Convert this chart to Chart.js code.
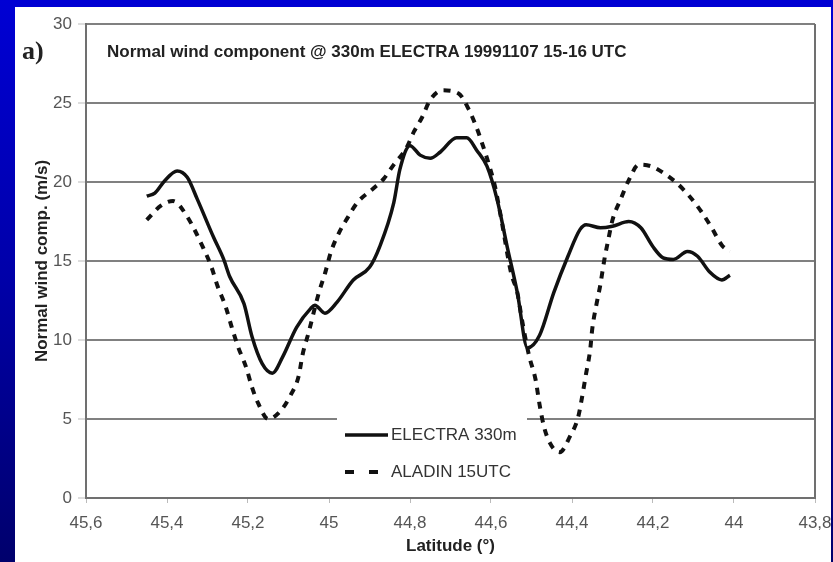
<!DOCTYPE html>
<html>
<head>
<meta charset="utf-8">
<script src="https://cdn.jsdelivr.net/npm/chart.js@4/dist/chart.umd.min.js"></script>
<style>
  html, body { margin: 0; padding: 0; }
  body {
    width: 833px; height: 562px; overflow: hidden; position: relative;
    background: linear-gradient(to bottom, #0000d4 0%, #0000a8 50%, #00006c 100%);
    font-family: Arial, "Liberation Sans", sans-serif;
  }
  #panel { position: absolute; left: 15px; top: 7px; width: 816px; height: 555px; background: #fff; }
  #chart { position: absolute; left: 0; top: 0; }
  #tag { position: absolute; left: 7px; top: 29px; font: bold 26px "Liberation Serif", "Times New Roman", serif; color: #222; }
  #caption { position: absolute; left: 92px; top: 35px; font: bold 17px Arial, "Liberation Sans", sans-serif; color: #222; white-space: nowrap; }
</style>
</head>
<body>
<div id="panel">
  <canvas id="chart" width="816" height="555"></canvas>
  <div id="tag">a)</div>
  <div id="caption">Normal wind component @ 330m ELECTRA 19991107 15-16 UTC</div>
</div>
<script>
// Latitude ticks (axis runs north to south) and wind ticks
const latTicks = [45.6, 45.4, 45.2, 45.0, 44.8, 44.6, 44.4, 44.2, 44.0, 43.8];
const windTicks = [0, 5, 10, 15, 20, 25, 30];

// ELECTRA aircraft measurement at 330 m
const electraLat = [45.45, 45.43, 45.405, 45.375, 45.35, 45.325, 45.285, 45.26, 45.245, 45.21,
  45.19, 45.165, 45.14, 45.115, 45.08, 45.045, 45.035, 45.01, 44.98, 44.94,
  44.9, 44.875, 44.84, 44.825, 44.80, 44.775, 44.75, 44.725, 44.685, 44.66,
  44.635, 44.61, 44.585, 44.56, 44.535, 44.51, 44.48, 44.445, 44.41, 44.38,
  44.365, 44.33, 44.30, 44.26, 44.23, 44.20, 44.175, 44.15, 44.115, 44.09,
  44.06, 44.03, 44.01];
const electraWind = [19.1, 19.3, 20.1, 20.7, 20.3, 18.9, 16.5, 15.1, 14.0, 12.3,
  10.2, 8.5, 7.9, 8.9, 10.8, 12.0, 12.2, 11.7, 12.4, 13.8,
  14.6, 15.9, 18.7, 20.8, 22.3, 21.7, 21.5, 21.9, 22.8, 22.8,
  22.0, 21.0, 18.9, 15.9, 13.0, 9.5, 10.3, 13.0, 15.3, 17.0,
  17.3, 17.1, 17.2, 17.5, 17.1, 15.9, 15.2, 15.1, 15.6, 15.3,
  14.3, 13.8, 14.1];

// ALADIN model, 15 UTC
const aladinLat = [45.45, 45.415, 45.385, 45.35, 45.31, 45.29, 45.275, 45.255, 45.24, 45.225,
  45.205, 45.19, 45.175, 45.15, 45.12, 45.095, 45.075, 45.065, 45.05, 45.025,
  45.01, 44.995, 44.975, 44.955, 44.93, 44.89, 44.865, 44.84, 44.81, 44.79,
  44.77, 44.75, 44.72, 44.68, 44.655, 44.635, 44.62, 44.605, 44.59, 44.58,
  44.57, 44.56, 44.55, 44.535, 44.525, 44.515, 44.505, 44.49, 44.48, 44.47,
  44.455, 44.43, 44.405, 44.385, 44.375, 44.365, 44.355, 44.35, 44.34, 44.33,
  44.32, 44.31, 44.30, 44.28, 44.26, 44.235, 44.205, 44.17, 44.14, 44.11,
  44.08, 44.055, 44.03, 44.01];
const aladinWind = [17.6, 18.5, 18.8, 17.8, 15.8, 14.6, 13.4, 12.1, 10.8, 9.6,
  8.3, 7.0, 6.0, 5.0, 5.5, 6.5, 7.7, 9.1, 10.5, 13.0,
  14.2, 15.6, 16.8, 17.7, 18.7, 19.6, 20.2, 21.1, 22.1, 23.2,
  24.1, 25.2, 25.8, 25.6, 24.6, 23.4, 22.3, 21.1, 19.7, 18.4,
  17.0, 15.5, 14.2, 13.0, 11.5, 10.1, 8.9, 7.5, 5.9, 4.6,
  3.5, 2.9, 3.9, 5.1, 6.4, 7.9, 9.4, 10.7, 12.2, 13.5,
  15.1, 16.4, 17.6, 18.9, 20.1, 21.1, 21.0, 20.5, 19.9, 19.1,
  18.1, 17.1, 16.0, 15.6];

const FONT = 'Arial, "Liberation Sans", sans-serif';
const toPoints = (xs, ys) => xs.map((x, i) => ({ x: x, y: ys[i] }));
const decimalComma = v => String(Math.round(v * 10) / 10).replace('.', ',');

// Closes the plot frame on the right side
const frame = {
  id: 'frame',
  beforeDatasetsDraw(chart) {
    const { ctx, chartArea: a } = chart;
    ctx.save();
    ctx.strokeStyle = '#707070';
    ctx.lineWidth = 2;
    ctx.beginPath();
    ctx.moveTo(a.right, a.top);
    ctx.lineTo(a.right, a.bottom);
    ctx.stroke();
    ctx.restore();
  }
};

// Boxed legend sitting inside the plot, above the latitude axis
const boxedLegend = {
  id: 'boxedLegend',
  afterDatasetsDraw(chart) {
    const { ctx } = chart;
    const box = { x: 322, y: 405, w: 190, h: 78 };
    ctx.save();
    ctx.fillStyle = '#ffffff';
    ctx.fillRect(box.x, box.y, box.w, box.h);
    const rows = [428, 465];
    chart.data.datasets.forEach((ds, i) => {
      const y = rows[i];
      ctx.strokeStyle = ds.borderColor;
      ctx.lineWidth = ds.borderWidth;
      ctx.setLineDash(i === 1 ? [9, 15] : []);
      ctx.beginPath();
      ctx.moveTo(330, y);
      ctx.lineTo(373, y);
      ctx.stroke();
      ctx.setLineDash([]);
      ctx.fillStyle = '#333';
      ctx.font = '17px ' + FONT;
      ctx.textBaseline = 'middle';
      ctx.textAlign = 'left';
      ctx.fillText(ds.label, 376, y);
    });
    ctx.restore();
  }
};

new Chart(document.getElementById('chart'), {
  type: 'line',
  data: {
    datasets: [
      {
        label: 'ELECTRA 330m',
        data: toPoints(electraLat, electraWind),
        borderColor: '#111111',
        borderWidth: 3.5,
        cubicInterpolationMode: 'monotone',
        pointRadius: 0,
        fill: false
      },
      {
        label: 'ALADIN 15UTC',
        data: toPoints(aladinLat, aladinWind),
        borderColor: '#111111',
        borderWidth: 4,
        borderDash: [7, 7],
        borderCapStyle: 'butt',
        cubicInterpolationMode: 'monotone',
        pointRadius: 0,
        fill: false
      }
    ]
  },
  options: {
    responsive: false,
    animation: false,
    layout: { padding: { left: 0, right: 16, top: 17, bottom: 0 } },
    plugins: { legend: { display: false }, tooltip: { enabled: false } },
    scales: {
      x: {
        type: 'linear',
        reverse: true,
        min: 43.8,
        max: 45.6,
        afterBuildTicks: s => { s.ticks = latTicks.map(v => ({ value: v })); },
        afterFit: s => { s.height = 64; s.paddingLeft = 0; s.paddingRight = 0; },
        grid: { drawOnChartArea: false, drawTicks: true, tickLength: 5, tickColor: '#bbbbbb', tickWidth: 1 },
        border: { display: true, color: '#707070', width: 2 },
        ticks: {
          padding: 10, color: '#555555', autoSkip: false, maxRotation: 0,
          font: { size: 17, family: FONT },
          callback: v => decimalComma(v)
        },
        title: {
          display: true, text: 'Latitude (°)', color: '#222222',
          font: { size: 17, weight: 'bold', family: FONT },
          padding: { top: 0, bottom: 5 }
        }
      },
      y: {
        min: 0,
        max: 30,
        afterBuildTicks: s => { s.ticks = windTicks.map(v => ({ value: v })); },
        afterFit: s => { s.width = 71; s.paddingTop = 0; s.paddingBottom = 0; },
        grid: { color: '#808080', lineWidth: 2, tickLength: 8, tickColor: '#bbbbbb', tickWidth: 1 },
        border: { display: true, color: '#707070', width: 2 },
        ticks: {
          padding: 6, color: '#555555',
          font: { size: 17, family: FONT },
          callback: v => decimalComma(v)
        },
        title: {
          display: true, text: 'Normal wind comp. (m/s)', color: '#222222',
          font: { size: 17, weight: 'bold', family: FONT },
          padding: { top: 17, bottom: 0 }
        }
      }
    }
  },
  plugins: [frame, boxedLegend]
});
</script>
</body>
</html>
